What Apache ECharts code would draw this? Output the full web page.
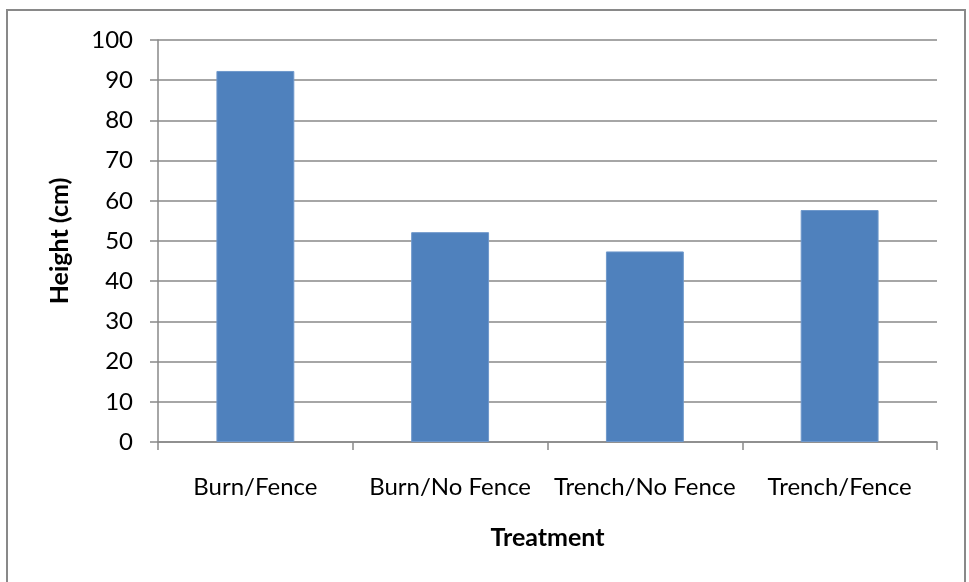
<!DOCTYPE html>
<html>
<head>
<meta charset="utf-8">
<script src="https://cdn.jsdelivr.net/npm/echarts@6/dist/echarts.min.js"></script>
<style>
  html, body { margin: 0; padding: 0; background: #ffffff; }
  #chart { width: 969px; height: 582px; }
</style>
</head>
<body>
<div id="chart"></div>
<script>
// Mean plant height for each treatment
const categories = ['Burn/Fence', 'Burn/No Fence', 'Trench/No Fence', 'Trench/Fence'];
const heights = [92.3, 52.2, 47.4, 57.7];
const yTicks = { min: 0, max: 100, interval: 10 };

const FONT = 'Lato, "Open Sans", sans-serif';
const GRAY = '#898989';

const chart = echarts.init(document.getElementById('chart'), null, { renderer: 'canvas' });

chart.setOption({
  animation: false,
  backgroundColor: '#ffffff',
  graphic: [{
    type: 'rect',
    shape: { x: 7, y: 10, width: 958, height: 620 },
    style: { fill: 'none', stroke: GRAY, lineWidth: 2 },
    silent: true
  }],
  grid: { left: 158, right: 32, top: 40, bottom: 140, containLabel: false },
  xAxis: {
    type: 'category',
    data: categories,
    name: 'Treatment',
    nameLocation: 'middle',
    nameGap: 83,
    nameTextStyle: { fontFamily: FONT, fontSize: 25, fontWeight: 'bold', color: '#000' },
    axisLine: { lineStyle: { color: GRAY, width: 1.5 } },
    axisTick: { show: true, alignWithLabel: false, length: 8, lineStyle: { color: GRAY, width: 1.5 } },
    axisLabel: { fontFamily: FONT, fontSize: 24, color: '#000', margin: 33, interval: 0 }
  },
  yAxis: {
    type: 'value',
    min: yTicks.min,
    max: yTicks.max,
    interval: yTicks.interval,
    name: 'Height (cm)',
    nameLocation: 'middle',
    nameGap: 86,
    nameRotate: 90,
    nameTextStyle: { fontFamily: FONT, fontSize: 25, fontWeight: 'bold', color: '#000' },
    axisLine: { show: true, lineStyle: { color: GRAY, width: 1.5 } },
    axisTick: { show: true, length: 8, lineStyle: { color: GRAY, width: 1.5 } },
    axisLabel: { fontFamily: FONT, fontSize: 24, color: '#000', margin: 25 },
    splitLine: { show: true, lineStyle: { color: GRAY, width: 1.5 } }
  },
  series: [{
    type: 'bar',
    data: heights,
    barWidth: '40%',
    itemStyle: { color: '#4F81BD', borderColor: '#6f98cb', borderWidth: 1 }
  }]
});
</script>
</body>
</html>
